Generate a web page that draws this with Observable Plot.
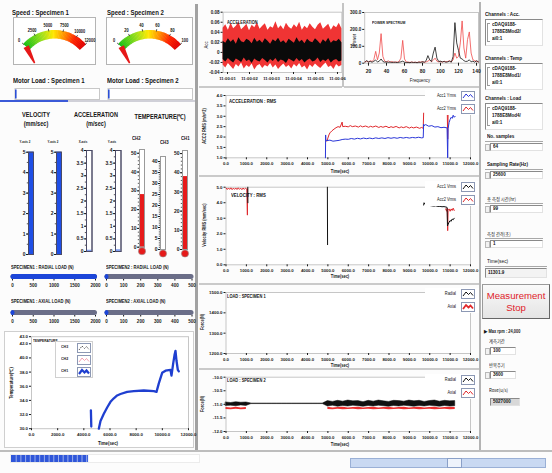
<!DOCTYPE html>
<html><head><meta charset="utf-8">
<script src="https://cdn.jsdelivr.net/npm/d3@7"></script>
<script src="https://cdn.jsdelivr.net/npm/@observablehq/plot@0.6"></script>
<style>
html,body{margin:0;padding:0;background:#fff;}
#root{position:relative;width:552px;height:473px;overflow:hidden;background:#fcfcfc;font-family:"Liberation Sans",Arial,sans-serif;color:#151515;}
#root div{box-sizing:border-box;}
</style></head>
<body><div id="root"></div>
<script>
// ================= DATA =================
const speedTicks1 = [0, 2500, 5000, 7500, 10000, 12000];
const speedTicks2 = [0, 20, 40, 60, 80, 100];
const speedValues = [0, 0];
const motorLoadValues = [0, 0];

const velHeaders = ["Y-axis 2", "Y-axis 2"];
const velTicks = [0, 1, 2, 3, 4, 5];
const velValues = [5, 5];
const accHeaders = ["X-axis", "Y-axis"];
const accTicks = [0, 0.5, 1, 1.5, 2, 2.5, 3, 3.5, 4];
const accValues = [0.05, 0.07];
const tempChannels = ["CH2", "CH3", "CH1"];
const tempScaleTicks = [[0,10,20,30,40,50],[0,5,10,15,20,25,30,35,40],[0,10,20,30,40,50]];
const tempValues = [28, 0, 38];

const loadBarTitles = ["SPECIMEN1 : RADIAL LOAD (N)","SPECIMEN2 : RADIAL LOAD (N)","SPECIMEN1 : AXIAL LOAD (N)","SPECIMEN2 : AXIAL LOAD (N)"];
const loadTicksS1 = [0, 500, 1000, 1500, 2000];
const loadTicksS2 = [0, 100, 200, 300, 400, 500];
const loadBarValues = [2000, 6, 25, 6];

// temperature history (CH1), [time s, degC]
const tempCH1 = [[4540,32.6],[4555,31.5],[4570,30.3],[4600,null],
 [5146,30.0],[5274,31.1],[5528,32.1],[5783,33.0],[6038,33.8],[6293,34.3],[6547,34.7],[6802,34.9],[7312,35.2],[7822,35.3],[8586,35.4],[9350,35.3],[9554,35.2],[9732,36.4],[9987,37.9],[10242,38.2],[10624,38.3],[10700,37.5],[10828,39.2],[10930,40.4],[11006,41.0],[11083,39.6],[11185,38.3],[11261,38.1]];
const tempYTicks = [30,32,34,36,38,40,42,43];
const timeTicks = [0,1000,2000,3000,4000,5000,6000,7000,8000,9000,10000,11000,12000];
const tempTimeTicks = [0,2000,4000,6000,8000,10000,12000];

// raw acceleration (envelopes of dense signal), seconds after 11:00:00
const accT = [0.80,0.92,1.04,1.16,1.28,1.40,1.52,1.64,1.76,1.88,2.00,2.12,2.24,2.36,2.48,2.60,2.72,2.84,2.96,3.08,3.20,3.32,3.44,3.56,3.68,3.80,3.92,4.04,4.16,4.28,4.40,4.52,4.64,4.76,4.88,5.00,5.12,5.24,5.36,5.48,5.60,5.72,5.84,5.96,6.08,6.20];
const accRedHi = [0.048,0.055,0.044,0.058,0.047,0.052,0.060,0.045,0.050,0.056,0.043,0.054,0.049,0.059,0.046,0.052,0.057,0.044,0.051,0.048,0.061,0.047,0.053,0.045,0.058,0.050,0.046,0.055,0.049,0.060,0.044,0.052,0.047,0.057,0.050,0.045,0.054,0.059,0.046,0.051,0.056,0.044,0.053,0.049,0.058,0.047];
const accRedLo = [-0.025,-0.031,-0.022,-0.028,-0.034,-0.024,-0.029,-0.021,-0.033,-0.026,-0.030,-0.023,-0.035,-0.027,-0.024,-0.032,-0.026,-0.029,-0.022,-0.031,-0.025,-0.034,-0.028,-0.023,-0.030,-0.026,-0.033,-0.024,-0.029,-0.022,-0.031,-0.027,-0.035,-0.025,-0.030,-0.023,-0.028,-0.032,-0.026,-0.021,-0.030,-0.027,-0.034,-0.024,-0.029,-0.026];
const accBlkHi = [0.022,0.018,0.027,0.020,0.025,0.016,0.029,0.021,0.019,0.026,0.023,0.017,0.028,0.020,0.024,0.018,0.027,0.022,0.016,0.025,0.021,0.028,0.019,0.023,0.017,0.026,0.022,0.018,0.029,0.020,0.024,0.017,0.026,0.021,0.019,0.027,0.022,0.016,0.025,0.020,0.028,0.018,0.023,0.021,0.026,0.019];
const accBlkLo = [-0.014,-0.019,-0.012,-0.017,-0.021,-0.013,-0.016,-0.020,-0.011,-0.018,-0.015,-0.022,-0.013,-0.017,-0.019,-0.012,-0.016,-0.021,-0.014,-0.018,-0.012,-0.020,-0.015,-0.017,-0.022,-0.013,-0.016,-0.019,-0.012,-0.018,-0.014,-0.021,-0.016,-0.013,-0.019,-0.017,-0.011,-0.020,-0.015,-0.018,-0.013,-0.021,-0.016,-0.014,-0.019,-0.017];
const accSecTicks = [1,2,3,4,5,6];
const accYTicks = [-0.04,-0.02,0,0.02,0.04,0.06,0.08];

// power spectrum
const specFreq = [16,18,20,22,24,26,28,30,32,34,36,38,40,42,44,46,48,50,52,54,56,58,60,62,64,66,68,70,72,74,76,78,80,82,84,86,88,90,92,94,96,98,100,102,104,106,108,110,112,114,116,118,120,122,124,126,128,130,132,134,136,138,140,142];
const specAcc2 = [8,12,6,15,10,22,70,20,60,175,40,12,8,14,6,10,5,8,6,10,30,135,25,8,6,5,7,5,6,4,8,6,10,5,8,12,20,8,18,30,12,8,10,6,12,8,10,15,8,20,60,30,40,120,250,90,30,140,185,60,20,15,10,8];
const specAcc1 = [5,15,8,10,6,12,18,8,12,25,10,6,8,5,7,4,6,5,4,6,8,12,6,4,5,3,6,4,5,3,6,5,8,6,15,45,20,10,60,95,30,10,12,8,10,6,8,12,6,40,240,120,75,30,25,15,10,12,20,8,12,6,15,8];
const specXTicks = [20,40,60,80,100,120,140];
const specYTicks = [0,100,200,300];

// acceleration RMS [time s, m/s^2]
const accRms1 = [[4880,1.0],[4890,2.1],[4900,1.85],[4950,1.83],[5100,1.85],[5250,1.80],[5400,1.82],[5550,1.84],[5700,1.88],[5850,1.90],[6000,1.89],[6150,1.93],[6300,1.90],[6450,1.94],[6600,1.91],[6750,1.95],[6900,1.92],[7050,1.95],[7200,1.92],[7350,1.96],[7500,1.93],[7650,1.96],[7800,1.93],[7950,1.97],[8100,1.94],[8250,1.97],[8400,1.94],[8550,1.98],[8700,1.95],[8850,1.98],[9000,1.95],[9150,1.98],[9300,1.96],[9450,1.99],[9600,1.96],[9680,1.97],[9700,2.62],[9720,2.55],[9800,2.60],[9950,2.52],[10100,2.55],[10250,2.48],[10400,2.50],[10550,2.45],[10700,2.47],[10850,2.44],[10880,1.0],[10900,2.4],[10950,2.7],[11000,2.85],[11050,2.95],[11100,2.9],[11150,3.05],[11200,2.95],[11250,3.0]];
const accRms2 = [[4950,1.80],[5000,1.95],[5050,2.10],[5100,2.20],[5200,2.30],[5300,2.38],[5400,2.45],[5500,2.50],[5600,2.47],[5700,2.72],[5730,2.50],[5850,2.52],[6000,2.49],[6100,2.55],[6200,2.50],[6350,2.53],[6500,2.48],[6600,2.54],[6700,2.49],[6850,2.53],[7000,2.47],[7100,2.52],[7200,2.48],[7350,2.53],[7500,2.46],[7600,2.51],[7700,2.47],[7850,2.52],[8000,2.45],[8100,2.50],[8200,2.46],[8350,2.51],[8500,2.44],[8600,2.49],[8700,2.45],[8850,2.50],[9000,2.43],[9100,2.48],[9200,2.44],[9350,2.48],[9500,2.42],[9600,2.46],[9680,2.42],[9700,3.15],[9710,null],[10860,3.25],[10880,1.9],[10900,3.1],[10950,3.15],[11000,3.2],[11100,3.15],[11200,3.2],[11250,3.1]];
const accRmsYTicks = [1,1.5,2,2.5,3,3.5,4];

// velocity RMS [time s, mm/s]
const velRms2 = [[0,4.95],[60,4.85],[120,4.95],[180,4.86],[240,4.96],[300,4.84],[360,4.94],[420,4.86],[480,4.95],[540,4.85],[600,4.96],[660,4.86],[720,4.94],[780,4.84],[840,4.95],[900,4.86],[960,4.94],[1020,4.88],[1050,3.2],[1060,4.9],[1080,null],[10780,3.6],[10830,3.45],[10860,3.65],[10880,2.2],[10900,3.5],[10950,3.6],[11000,3.45],[11050,3.6],[11100,3.5],[11150,3.65],[11200,3.5]];
const velRms1 = [[1070,5.0],[1075,4.0],[1090,null],[4975,5.0],[4985,1.3],[5000,null],[9700,3.85],[9720,4.0],[9760,3.9],[9800,3.85],[9900,3.83],[10000,3.82],[10100,3.8],[10200,3.78],[10300,3.8],[10400,3.76],[10500,3.77],[10600,3.74],[10700,3.75],[10800,3.72],[10850,3.7],[10870,2.5],[10900,2.6],[10950,2.75],[11000,2.85],[11050,2.8],[11100,2.95],[11150,2.9],[11200,3.0]];
const velRmsYTicks = [0,1,2,3,4,5];

// load specimen 1 (no samples) / specimen 2 envelopes
const load1YTicks = [1200,1300,1400,1500];
const load2YTicks = [-12,-11.5,-11,-10.5,-10];
const load2T = [0,250,500,750,1000,1250,1500,1750,2000,2250,2500,2750,3000,3250,3500,3750,4000,4250,4500,4750,5000,5250,5500,5750,6000,6250,6500,6750,7000,7250,7500,7750,8000,8250,8500,8750,9000,9250,9500,9750,10000,10250,10500,10750,11000,11250];
const load2RadHi = [-10.93,-10.95,-10.92,-10.94,-10.93,-10.97,-10.97,-10.97,-10.97,-10.97,-10.97,-10.97,-10.97,-10.97,-10.97,-10.97,-10.97,-10.97,-10.97,-10.97,-10.88,-10.91,-10.87,-10.90,-10.86,-10.89,-10.88,-10.92,-10.87,-10.90,-10.86,-10.89,-10.91,-10.87,-10.88,-10.90,-10.86,-10.89,-10.87,-10.91,-10.88,-10.86,-10.90,-10.87,-10.89,-10.88];
const load2RadLo = [-11.06,-11.05,-11.07,-11.04,-11.06,-10.99,-10.99,-10.99,-10.99,-10.99,-10.99,-10.99,-10.99,-10.99,-10.99,-10.99,-10.99,-10.99,-10.99,-10.99,-11.08,-11.05,-11.09,-11.06,-11.08,-11.05,-11.07,-11.09,-11.06,-11.08,-11.05,-11.07,-11.09,-11.06,-11.08,-11.05,-11.07,-11.09,-11.06,-11.08,-11.05,-11.07,-11.09,-11.06,-11.08,-11.07];
const load2AxHi = [-11.12,-11.13,-11.11,-11.13,-11.12,null,null,null,null,null,null,null,null,null,null,null,null,null,null,null,-11.11,-11.13,-11.12,-11.11,-11.13,-11.12,-11.11,-11.13,-11.12,-11.11,-11.13,-11.12,-11.11,-11.13,-11.12,-11.11,-11.13,-11.12,-11.11,-11.13,-11.12,-11.11,-11.13,-11.12,-11.11,-11.12];
const load2AxLo = [-11.19,-11.20,-11.18,-11.20,-11.19,null,null,null,null,null,null,null,null,null,null,null,null,null,null,null,-11.19,-11.20,-11.18,-11.20,-11.19,-11.18,-11.20,-11.19,-11.18,-11.20,-11.19,-11.18,-11.20,-11.19,-11.18,-11.20,-11.19,-11.18,-11.20,-11.19,-11.18,-11.20,-11.19,-11.18,-11.20,-11.19];

// right panel
const chanLabels = ["Channels : Acc.", "Channels : Temp", "Channels : Load"];
const chanValues = [["cDAQ9188-","1788E8Mod2/","ai0:1"],["cDAQ9188-","1788E8Mod1/","ai0:1"],["cDAQ9188-","1788E8Mod4/","ai0:1"]];
const setLabels = ["No. samples", "Sampling Rate(Hz)", "총 측정 시간(hr)", "측정 간격(초)"];
const setValues = ["64", "25600", "99", "1"];
const elapsedTime = "11301.9";
const maxRpmText = "▶ Max rpm : 24,000";
const cycleLabels = ["계측기간", "반복주기", "Rose(u/s)"];
const cycleValues = ["100", "3600", "5027000"];
const progressValue = 41;

// ================= HELPERS =================
const root = document.getElementById("root");
const FONT = '"Liberation Sans",Arial,sans-serif';
const KFONT = '"Noto Sans CJK KR","Liberation Sans",sans-serif';
const SX = 0.86;
function put(el, x, y) { el.style.position = "absolute"; el.style.left = x + "px"; el.style.top = y + "px"; root.appendChild(el); return el; }
function box(x, y, w, h, css) { const d = document.createElement("div"); d.style.cssText = `width:${w}px;height:${h}px;` + (css || ""); return put(d, x, y); }
function label(s, x, y, size, css, anchor = "l") {
  const d = document.createElement("div"); d.textContent = s;
  let tf;
  if (anchor === "l") tf = `transform-origin:0 0;transform:scaleX(${SX});`;
  else if (anchor === "c") tf = `transform:translate(-50%,-50%) scaleX(${SX});`;
  else if (anchor === "r") tf = `transform-origin:100% 50%;transform:translate(-100%,-50%) scaleX(${SX});`;
  else tf = `transform:translate(-50%,-50%) rotate(-90deg) scaleX(${SX});`;
  d.style.cssText = `font-size:${size}px;font-weight:bold;line-height:1;white-space:nowrap;` + tf + (css || "");
  return put(d, x, y);
}
const clabel = (s, x, y, size, css) => label(s, x, y, size, css, "c");
const vlabel = (s, x, y, size, css) => label(s, x, y, size, css, "v");
function plotAt(x, y, opts) {
  const el = Plot.plot(Object.assign({style: {background: "transparent", fontFamily: FONT, fontSize: "5px", color: "#1a1a1a", overflow: "visible"}}, opts));
  put(el, x, y); return el;
}
const pairs = (arr) => arr.map(([t, v]) => ({t, v}));

// ================= PANEL FRAMES =================
box(195, 4, 3, 447, "background:#a2a2a2;");
box(479, 2, 2, 449, "background:#b4b4b4;");
box(342, 3, 2, 84, "background:#c4c4c4;");
box(199, 86, 143, 2, "background:#cacaca;");
box(344, 86, 135, 2, "background:#cacaca;");
[175, 283, 368].forEach(y => box(199, y, 280, 2, "background:#cacaca;"));
box(0, 450, 552, 2, "background:#bdbdbd;");

// ================= SPEED GAUGES =================
function gauge(bx, by, bw, bh, ticks, value) {
  const max = ticks[ticks.length - 1];
  const cx = bw / 2, cy = 55;
  const svg = d3.create("svg").attr("width", bw).attr("height", bh).style("overflow", "visible");
  svg.append("rect").attr("x", 0.5).attr("y", 0.5).attr("width", bw - 1).attr("height", bh - 1).attr("fill", "#fff").attr("stroke", "#b4b4b4");
  const ang = d3.scaleLinear().domain([0, max]).range([-0.84, 0.84]);
  const col = d3.scaleLinear().domain([0, .3, .48, .66, .82, 1].map(f => f * max)).range(["#18c018", "#a0e01c", "#ffe800", "#ff8c00", "#ff2600", "#e00000"]);
  const arc = d3.arc().innerRadius(33.5).outerRadius(42);
  const g = svg.append("g").attr("transform", `translate(${cx},${cy})`);
  const N = 48;
  for (let i = 0; i < N; i++) {
    const v0 = max * i / N, v1 = max * (i + 1) / N;
    g.append("path").attr("d", arc({startAngle: ang(v0), endAngle: ang(v1) + 0.012})).attr("fill", col((v0 + v1) / 2));
  }
  ticks.forEach(t => {
    const a = ang(t);
    g.append("line").attr("x1", 41 * Math.sin(a)).attr("y1", -41 * Math.cos(a)).attr("x2", 43.5 * Math.sin(a)).attr("y2", -43.5 * Math.cos(a)).attr("stroke", "#333").attr("stroke-width", 0.8);
    g.append("text").attr("x", 47.5 * Math.sin(a)).attr("y", -47.5 * Math.cos(a)).attr("text-anchor", "middle").attr("dy", "0.35em")
      .attr("font-size", 4.6).attr("font-weight", "bold").attr("font-family", FONT).attr("fill", "#111")
      .attr("transform", `translate(${47.5 * Math.sin(a)},0) scale(0.86,1) translate(${-47.5 * Math.sin(a)},0)`).text(t);
  });
  const a = ang(value);
  const A = [38 * Math.sin(a), -38 * Math.cos(a)], P = [0, 30];
  const L = Math.hypot(P[0] - A[0], P[1] - A[1]);
  const u = [(P[0] - A[0]) / L, (P[1] - A[1]) / L], n = [-u[1], u[0]];
  const len = 18.5;
  const pts = [[A[0] + 3 * n[0], A[1] + 3 * n[1]], [A[0] - 3 * n[0], A[1] - 3 * n[1]],
    [A[0] + len * u[0] - 0.7 * n[0], A[1] + len * u[1] - 0.7 * n[1]], [A[0] + len * u[0] + 0.7 * n[0], A[1] + len * u[1] + 0.7 * n[1]]];
  g.append("polygon").attr("points", pts.map(p => p.join(",")).join(" ")).attr("fill", "#e61818");
  put(svg.node(), bx, by);
}
label("Speed : Specimen 1", 12, 9, 7);
label("Speed : Specimen 2", 107, 9, 7);
gauge(13, 17, 83, 48, speedTicks1, speedValues[0]);
gauge(106, 17, 87, 48, speedTicks2, speedValues[1]);

// motor load
label("Motor Load : Specimen 1", 13, 77, 7);
label("Motor Load : Specimen 2", 107, 77, 7);
[[13, 87], [106, 87]].forEach(([x, y], i) => {
  plotAt(x, y, {width: 87, height: 13, marginLeft: 1.5, marginRight: 1, marginTop: 1, marginBottom: 1,
    x: {domain: [0, 100], axis: null},
    marks: [
      Plot.frame({fill: "#fff", stroke: "#c8c8c8"}),
      Plot.ruleX([motorLoadValues[i]], {x: d => d, stroke: "#2b4fd6", strokeWidth: 1.6, dx: 0.8, insetTop: 1.5, insetBottom: 0.5})
    ]});
});
box(0, 100, 68, 1.5, "background:#3b5ad8;");
box(68, 100, 127, 1.5, "background:#d0d0d8;");

// ================= COLUMN GAUGES =================
clabel("VELOCITY", 36, 115, 6.5); clabel("(mm/sec)", 36, 123.5, 6.5);
clabel("ACCELERATION", 96, 115, 6.5); clabel("(m/sec)", 96, 123.5, 6.5);
clabel("TEMPERATURE(℃)", 160, 117, 6.5);

function column({left, top, plotX, w, yTop, yBottom, domain, ticks, minor, value, fill, bg, thermo}) {
  const mL = plotX - left, mT = yTop - top, mB = thermo ? 9 : 3;
  const height = mT + (yBottom - yTop) + mB, width = mL + w + 3;
  const marks = [
    Plot.frame({fill: bg || "#fff", stroke: thermo ? "#9a9a9a" : "#5a5a70"}),
    Plot.barY([value], {y1: domain[0], y2: d => d, fill}),
    Plot.axisY({ticks: minor, tickSize: 1.2, tickFormat: () => "", stroke: "#555", label: null}),
    Plot.axisY({ticks, tickSize: 2, tickPadding: 1, tickFormat: d => String(d), fontSize: 5, fontWeight: "bold", label: null}),
    Plot.frame({stroke: thermo ? "#9a9a9a" : "#4a4a66"})
  ];
  if (thermo) marks.push(Plot.dot([value], {y: domain[0], dy: 4, r: 3.6, fill, stroke: "#999", strokeWidth: 0.6}));
  plotAt(left, top, {width, height, marginLeft: mL, marginRight: 3, marginTop: mT, marginBottom: mB, y: {domain}, marks});
}
const velMinor = [0,0.5,1,1.5,2,2.5,3,3.5,4,4.5,5];
const accMinor = [0,0.25,0.5,0.75,1,1.25,1.5,1.75,2,2.25,2.5,2.75,3,3.25,3.5,3.75,4];
[[8, 28], [36, 56]].forEach(([left, plotX], i) => {
  column({left, top: 146, plotX, w: 5, yTop: 151.7, yBottom: 254, domain: [0, 5], ticks: velTicks, minor: velMinor, value: velValues[i], fill: "#1f4fe6"});
  clabel(velHeaders[i], plotX - 3, 143, 3.4);
});
[[66, 86], [95, 115]].forEach(([left, plotX], i) => {
  column({left, top: 144, plotX, w: 5.5, yTop: 150, yBottom: 251, domain: [0, 4], ticks: accTicks, minor: accMinor, value: accValues[i], fill: "#7f9ef0"});
  clabel(accHeaders[i], plotX - 3, 143, 3.4);
});
const thermoCfg = [
  {left: 119, plotX: 139, yTop: 149, yBottom: 246.7, domain: [0, 52], minor: [0,2,4,6,8,10,12,14,16,18,20,22,24,26,28,30,32,34,36,38,40,42,44,46,48,50]},
  {left: 140, plotX: 160, yTop: 156, yBottom: 249, domain: [0, 42.3], minor: [0,1,2,3,4,5,6,7,8,9,10,11,12,13,14,15,16,17,18,19,20,21,22,23,24,25,26,27,28,29,30,31,32,33,34,35,36,37,38,39,40]},
  {left: 162, plotX: 182, yTop: 150, yBottom: 249, domain: [0, 51.6], minor: [0,2,4,6,8,10,12,14,16,18,20,22,24,26,28,30,32,34,36,38,40,42,44,46,48,50]}
];
thermoCfg.forEach((c, i) => {
  column({left: c.left, top: c.yTop - 6, plotX: c.plotX, w: 5, yTop: c.yTop, yBottom: c.yBottom, domain: c.domain, ticks: tempScaleTicks[i], minor: c.minor, value: tempValues[i], fill: "#e61a1a", thermo: true});
});
label(tempChannels[0], 132, 136, 5); label(tempChannels[1], 160, 139.5, 5); label(tempChannels[2], 181, 136, 5);

// ================= LOAD BARS =================
function hbar(left, top, x0, x1, domain, ticks, value) {
  plotAt(left, top, {width: x1 - left + 7, height: 22, marginLeft: x0 - left, marginRight: 7, marginTop: 3, marginBottom: 14,
    x: {domain},
    marks: [
      Plot.barX([domain[1]], {x1: domain[0], x2: d => d, fill: "#6b6e88", rx: 2.5, insetLeft: -1.5, insetRight: -2}),
      Plot.barX([value], {x1: domain[0], x2: d => d, fill: "#1c46d9", rx: 2.5, insetLeft: -1.5, insetRight: value >= domain[1] ? -2 : -1.5}),
      Plot.axisX({ticks, tickSize: 1.5, tickPadding: 2.5, fontSize: 4.6, fontWeight: "bold", tickFormat: d => String(d), label: null})
    ]});
}
label(loadBarTitles[0], 11, 266, 4.8); label(loadBarTitles[1], 106, 266, 4.8);
label(loadBarTitles[2], 11, 300, 4.8); label(loadBarTitles[3], 106, 300, 4.8);
hbar(4, 271, 12, 95, [0, 2000], loadTicksS1, loadBarValues[0]);
hbar(98, 271, 106, 191.5, [0, 500], loadTicksS2, loadBarValues[1]);
hbar(4, 307, 12, 95, [0, 2000], loadTicksS1, loadBarValues[2]);
hbar(98, 307, 106, 191.5, [0, 500], loadTicksS2, loadBarValues[3]);

// ================= TEMPERATURE HISTORY =================
box(4, 331, 190, 117, "border:1px solid #cfcfcf;background:#fff;");
plotAt(4, 332, {width: 190, height: 115, marginLeft: 27, marginRight: 6, marginTop: 4.2, marginBottom: 18.8,
  x: {domain: [0, 12000]}, y: {domain: [30, 43]},
  marks: [
    Plot.frame({fill: "#fff", stroke: "#c6c6c6"}),
    Plot.axisX({ticks: tempTimeTicks, tickFormat: d => d.toFixed(1), tickSize: 2, tickPadding: 2, fontSize: 4.4, fontWeight: "bold", label: null}),
    Plot.axisY({ticks: tempYTicks, tickFormat: d => d.toFixed(1), tickSize: 2, tickPadding: 1.5, fontSize: 4.4, fontWeight: "bold", label: null}),
    Plot.line(pairs(tempCH1), {x: "t", y: "v", stroke: "#1f3fd0", strokeWidth: 2.3})
  ]});
clabel("Time(sec)", 108, 443, 5);
vlabel("Temperature(℃)", 12, 383, 4.8);
label("TEMPERATURE", 33, 340, 3.8);
box(55, 341, 38, 37, "border:1px solid #d0d0d0;background:#fff;");
function glyph(x, y, color, w, dash) {
  const s = d3.create("svg").attr("width", 14).attr("height", 10);
  s.append("rect").attr("x", 0.5).attr("y", 0.5).attr("width", 13).attr("height", 9).attr("fill", "#fff").attr("stroke", "#8c98b4");
  s.append("path").attr("d", "M2,7 L5,3 L7.5,5.5 L9.5,3.5 L12,6.5").attr("fill", "none").attr("stroke", color).attr("stroke-width", w).attr("stroke-dasharray", dash || null);
  put(s.node(), x, y);
}
["CH3", "CH2", "CH1"].forEach((n, i) => { label(n, 61, 345 + i * 12, 4.2); });
glyph(77, 343, "#333", 0.8, "1.5,1"); glyph(77, 355, "#f08aa0", 0.8); glyph(77, 367, "#1f3fd0", 2.2);

// ================= RAW ACCELERATION =================
const accRows = accT.map((t, i) => ({t, rh: accRedHi[i], rl: accRedLo[i], bh: accBlkHi[i], bl: accBlkLo[i]}));
plotAt(199, 2, {width: 143.4, height: 84, marginLeft: 23.6, marginRight: 1, marginTop: 9.7, marginBottom: 14,
  x: {domain: [0.8, 6.2]}, y: {domain: [-0.04, 0.08]},
  marks: [
    Plot.frame({fill: "#fff", stroke: "#c6c6c6"}),
    Plot.areaY(accRows, {x: "t", y1: "rl", y2: "rh", fill: "#f03434"}),
    Plot.areaY(accRows, {x: "t", y1: "bl", y2: "bh", fill: "#0a0a0a"}),
    Plot.axisX({ticks: accSecTicks, tickFormat: d => "11:00:0" + d, tickSize: 2, tickPadding: 3, fontSize: 4.2, fontWeight: "bold", label: null}),
    Plot.axisY({ticks: accYTicks, tickFormat: d => d === 0 ? "0" : d.toFixed(2), tickSize: 2, tickPadding: 1.5, fontSize: 4.6, fontWeight: "bold", label: null})
  ]});
label("ACCELERATION", 227, 21, 4.5);
vlabel("Acc", 206, 45, 5, "font-weight:normal;");

// ================= POWER SPECTRUM =================
const specRows = specFreq.map((f, i) => ({f, a1: specAcc1[i], a2: specAcc2[i]}));
plotAt(343, 2, {width: 135, height: 84, marginLeft: 21.2, marginRight: 0, marginTop: 10, marginBottom: 23.3,
  x: {domain: [15.8, 142.2]}, y: {domain: [0, 300]},
  marks: [
    Plot.frame({fill: "#fff", stroke: "#c6c6c6"}),
    Plot.line(specRows, {x: "f", y: "a2", stroke: "#f04a4a", strokeWidth: 0.8}),
    Plot.line(specRows, {x: "f", y: "a1", stroke: "#111", strokeWidth: 0.8}),
    Plot.axisX({ticks: specXTicks, tickSize: 3, tickPadding: 3.5, fontSize: 5, fontWeight: "bold", label: null}),
    Plot.axisY({ticks: specYTicks, tickFormat: d => d === 0 ? "0" : d + ".0", tickSize: 2, tickPadding: 1.5, fontSize: 4.5, fontWeight: "bold", label: null})
  ]});
label("POWER SPECTRUM", 372, 21, 4);
clabel("Frequency", 420, 80, 5, "font-weight:normal;");
vlabel("Power", 354, 40, 5, "font-weight:normal;");

// ================= TIME CHARTS =================
function timeChart({top, height, yTop, yBottom, yDomain, yTicks, marks}) {
  const left = 197, x0 = 225.5, x1 = 470;
  return plotAt(left, top, {width: 479 - left, height, marginLeft: x0 - left, marginRight: 479 - x1, marginTop: yTop - top, marginBottom: top + height - yBottom,
    x: {domain: [0, 12000]}, y: {domain: yDomain},
    marks: [
      Plot.frame({fill: "#fff", stroke: "#c6c6c6"}),
      ...marks,
      Plot.axisX({ticks: timeTicks, tickFormat: d => d.toFixed(1), tickSize: 2, tickPadding: 2.5, fontSize: 4.3, fontWeight: "bold", label: null}),
      Plot.axisY({ticks: yTicks, tickFormat: d => d.toFixed(1), tickSize: 2, tickPadding: 1.5, fontSize: 4.4, fontWeight: "bold", label: null})
    ]});
}
function legend(y, entries) {
  box(425, y - 6, 54, 25, "background:#fff;");
  entries.forEach((e, i) => {
    const yy = y + i * 12.5;
    label(e.name, 456, yy, 4.6, "font-weight:normal;", "r");
    glyph(461, yy - 5, e.color, e.w || 1);
  });
}
// acceleration RMS
timeChart({top: 86, height: 86, yTop: 95, yBottom: 157.3, yDomain: [1, 4], yTicks: accRmsYTicks, marks: [
  Plot.line(pairs(accRms2), {x: "t", y: "v", stroke: "#e0282c", strokeWidth: 1}),
  Plot.line(pairs(accRms1), {x: "t", y: "v", stroke: "#2a36d8", strokeWidth: 1})
]});
label("ACCELERATION : RMS", 229, 99, 5);
vlabel("ACC2 RMS (m/s^2)", 205, 126, 4.6);
clabel("Time(sec)", 340, 171.5, 4.6);
legend(96, [{name: "Acc1 Yrms", color: "#2a36d8"}, {name: "Acc2 Yrms", color: "#e0282c"}]);

// velocity RMS
timeChart({top: 177, height: 98, yTop: 186.7, yBottom: 264.3, yDomain: [0, 5], yTicks: velRmsYTicks, marks: [
  Plot.line(pairs(velRms2), {x: "t", y: "v", stroke: "#e0282c", strokeWidth: 1}),
  Plot.line(pairs(velRms1), {x: "t", y: "v", stroke: "#111", strokeWidth: 1})
]});
label("VELOCITY : RMS", 231, 193, 5);
vlabel("Velocity RMS (mm/sec)", 205, 225, 4.6);
clabel("Time(sec)", 340, 277, 4.6);
legend(187, [{name: "Acc1 Vrms", color: "#111"}, {name: "Acc2 Vrms", color: "#e0282c"}]);

// load specimen 1
timeChart({top: 285, height: 82, yTop: 292, yBottom: 353, yDomain: [1200, 1500], yTicks: load1YTicks, marks: []});
label("LOAD : SPECIMEN 1", 227, 295, 4.6);
vlabel("Force(N)", 203, 322, 4.6);
clabel("Time(sec)", 340, 366, 4.6);
legend(294, [{name: "Radial", color: "#111"}, {name: "Axial", color: "#e0282c", w: 1.8}]);

// load specimen 2
const load2Rows = load2T.map((t, i) => ({t, rh: load2RadHi[i], rl: load2RadLo[i], ah: load2AxHi[i], al: load2AxLo[i]}));
timeChart({top: 370, height: 76, yTop: 376.7, yBottom: 431, yDomain: [-12, -10], yTicks: load2YTicks, marks: [
  Plot.areaY(load2Rows, {x: "t", y1: "al", y2: "ah", fill: "#ec3030"}),
  Plot.areaY(load2Rows, {x: "t", y1: "rl", y2: "rh", fill: "#111", stroke: "#111", strokeWidth: 0.5})
]});
label("LOAD : SPECIMEN 2", 227, 379, 4.6);
vlabel("Force(N)", 203, 404, 4.6);
clabel("Time(sec)", 340, 445, 4.6);
legend(380, [{name: "Radial", color: "#111"}, {name: "Axial", color: "#e0282c"}]);

// ================= RIGHT PANEL =================
function field(x, y, w, h, text, opts = {}) {
  const d = box(x, y, w, h, `background:${opts.bg || "#fff"};border-top:1px solid #8a8a8a;border-left:1px solid #8a8a8a;border-right:1px solid #e2e2e2;border-bottom:1px solid #e2e2e2;`);
  if (opts.spin) {
    box(x - 5, y + 0.5, 4.5, h - 1, "border:1px solid #b8b8b8;background:#f2f2f2;");
  }
  if (Array.isArray(text)) {
    box(x + 2, y + 4, 3, h - 8, "border:1px solid #999;border-right:none;");
    text.forEach((s, i) => label(s, x + 7, y + 3 + i * 7, 5.3));
  } else {
    label(text, x + 3, y + (h - 5.3) / 2, 5.3);
  }
  return d;
}
chanLabels.forEach((s, i) => {
  const y0 = [12, 56, 96][i];
  label(s, 485, y0, 5.4);
  field(485, y0 + 7, 58, 27, chanValues[i]);
});
const setY = [134, 162, 196, 231];
setLabels.forEach((s, i) => {
  label(s, 487, setY[i], 5.4, i >= 2 ? `font-family:${KFONT};font-weight:normal;font-size:5px;` : "");
  box(485, setY[i] + 7, 58, 1, "background:#a8a8a8;");
  field(490, setY[i] + 9, 53, 8, setValues[i], {spin: true});
});
label("Time(sec)", 487, 259, 5.6, "font-weight:normal;");
box(485, 266, 62, 1, "background:#a8a8a8;");
field(485, 268, 62, 10, elapsedTime, {bg: "#f3f3f3"});

// Measurement stop button
box(482, 284, 68, 35, "background:linear-gradient(#fafafa,#e4e4e4);border:1px solid #9a9a9a;border-right-color:#666;border-bottom-color:#666;");
clabel("Measurement", 516, 296, 9.6, "font-weight:normal;color:#e0222a;transform:translate(-50%,-50%);");
clabel("Stop", 516, 308, 9.6, "font-weight:normal;color:#e0222a;transform:translate(-50%,-50%);");

label(maxRpmText, 484, 330, 4.6);
const cycY = [338, 362, 387];
cycleLabels.forEach((s, i) => {
  label(s, 489, cycY[i], 5, `font-family:${KFONT};font-weight:normal;`);
  if (i < 2) field(490, cycY[i] + 9, 26, 8, cycleValues[i], {spin: true});
  else field(490, cycY[i] + 11, 30, 8, cycleValues[i], {bg: "#d8d8d8"});
});

// ================= BOTTOM BARS =================
box(10, 454, 190, 9, "border:1px solid #ececec;background:#fff;");
plotAt(11, 455, {width: 188, height: 7, margin: 0, x: {domain: [0, 100], axis: null},
  marks: [Plot.barX([progressValue], {x1: 0, x2: d => d, fill: "#2f56d9"}),
          Plot.ruleX([2.5,5,7.5,10,12.5,15,17.5,20,22.5,25,27.5,30,32.5,35,37.5,40], {stroke: "#c9d4f6", strokeWidth: 0.7})]});
box(350, 458, 196, 10, "background:#c9d9f2;border:1px solid #9ab0d6;");
box(447, 458, 15, 10, "background:#eef3fb;border:1px solid #8aa0c8;");
</script></body></html>
